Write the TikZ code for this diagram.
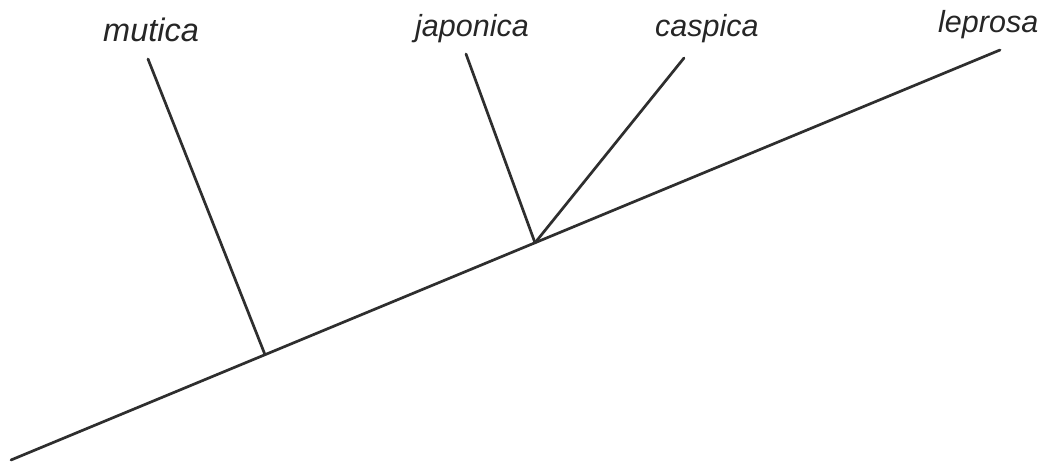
\documentclass[tikz,border=0pt]{standalone}
\usepackage{fontspec}
\setmainfont{Liberation Sans}
\begin{document}
\begin{tikzpicture}[x=1pt,y=1pt,
  branch/.style={draw=black!82, line width=2.7pt, line cap=round},
  taxon/.style={inner sep=0pt, anchor=base west, text=black!85,
    font=\fontsize{30.5}{36}\selectfont\itshape}]
\useasboundingbox[fill=white] (0,0) rectangle (1048,464);
% tree points
\coordinate (root) at (11,4);
\coordinate (tipL) at (1000,414);
\coordinate (n1) at (265,109.3);
\coordinate (n2) at (535,221.2);
\coordinate (tipM) at (148,405);
\coordinate (tipJ) at (466,410);
\coordinate (tipC) at (684,406);
% labels
\node[taxon, font=\fontsize{32.5}{38}\selectfont\itshape] (mutica) at (103,422) {mutica};
\node[taxon] (japonica) at (415,427) {japonica};
\node[taxon] (caspica) at (655,427) {caspica};
\node[taxon] (leprosa) at (938,431) {leprosa};
% branches
\draw[branch] (root) -- (tipL);
\draw[branch] (n1) -- (tipM);
\draw[branch] (n2) -- (tipJ);
\draw[branch] (n2) -- (tipC);
\end{tikzpicture}
\end{document}
